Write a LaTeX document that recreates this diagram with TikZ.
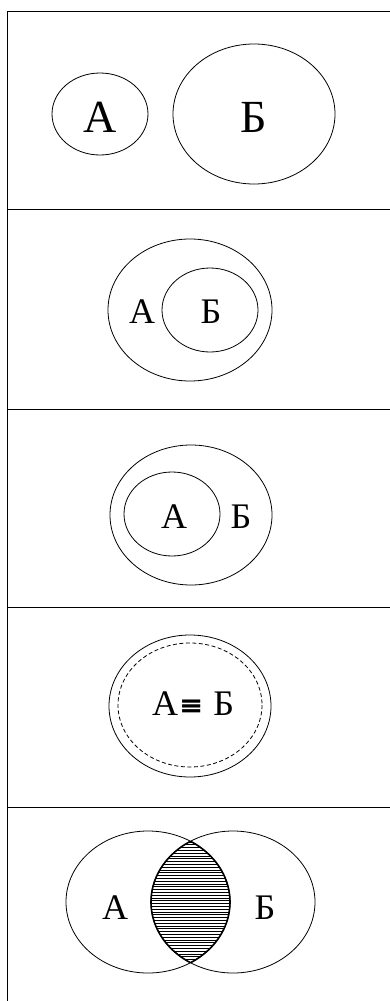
\documentclass[tikz,border=0pt]{standalone}
\usepackage{fontspec}
\setmainfont{Liberation Serif}
\newfontfamily\symf{DejaVu Serif}
\begin{document}
\begin{tikzpicture}[x=1pt,y=-1pt,line width=0.8pt,
  frame/.style={line width=0.9pt},
  big/.style={inner sep=0pt,anchor=base,font=\fontsize{46}{46}\selectfont},
  lbl/.style={inner sep=0pt,anchor=base,font=\fontsize{36}{36}\selectfont},
  hatch/.style={line width=0.9pt},
  lens/.style={line width=1.6pt}]
\useasboundingbox (0,0) rectangle (390,1001);
% frame
\draw[frame] (7,11) -- (7,1001);
\foreach \yy in {11,209,409,607,807} \draw[frame] (7,\yy) -- (390,\yy);
% panel 1
\draw (100,114) ellipse [x radius=48, y radius=41];
\draw (254,114) ellipse [x radius=81, y radius=70];
\node[big] (a1) at (100,132) {А};
\node[big] (b1) at (254,132) {Б};
% panel 2
\draw (190,310) ellipse [x radius=82, y radius=71];
\draw (210,310) ellipse [x radius=48, y radius=42];
\node[lbl] (a2) at (142,323) {А};
\node[lbl] (b2) at (211,323) {Б};
% panel 3
\draw (191,515) ellipse [x radius=81, y radius=70];
\draw (172,514) ellipse [x radius=48, y radius=42];
\node[lbl] (a3) at (174,528) {А};
\node[lbl] (b3) at (241,528) {Б};
% panel 4
\draw (190,706) ellipse [x radius=81, y radius=71];
\draw[dashed,dash pattern=on 4pt off 2.5pt] (190,705) ellipse [x radius=72, y radius=62];
\node[lbl] (e4) at (193,715) {А\hspace{1pt}{\symf\bfseries\fontsize{29}{29}\selectfont ≡}\hspace{1pt} Б};
% panel 5
\begin{scope}
  \clip (148,902) ellipse [x radius=82, y radius=71];
  \clip (233,902) ellipse [x radius=82, y radius=71];
  \foreach \yy in {828,830.8,...,976} \draw[hatch] (140,\yy) -- (240,\yy);
\end{scope}
\begin{scope}
  \clip (148,902) ellipse [x radius=82, y radius=71];
  \draw[lens] (233,902) ellipse [x radius=82, y radius=71];
\end{scope}
\begin{scope}
  \clip (233,902) ellipse [x radius=82, y radius=71];
  \draw[lens] (148,902) ellipse [x radius=82, y radius=71];
\end{scope}
\draw (148,902) ellipse [x radius=82, y radius=71];
\draw (233,902) ellipse [x radius=82, y radius=71];
\node[lbl] (a5) at (115,919) {А};
\node[lbl] (b5) at (265,919) {Б};
\end{tikzpicture}
\end{document}
